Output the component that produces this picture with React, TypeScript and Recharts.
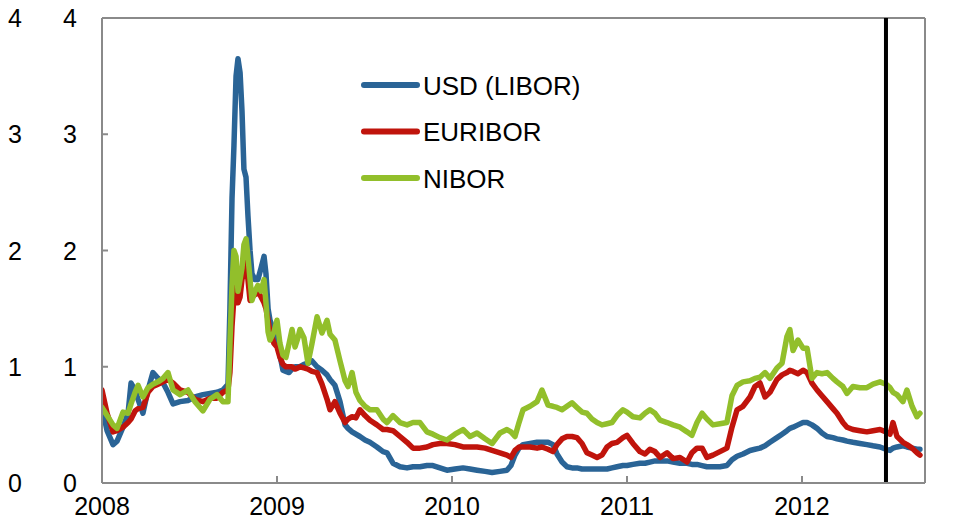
import {
    LineChart,
    Line,
    XAxis,
    YAxis,
    ReferenceLine,
    Legend,
} from 'recharts';

// decimal years
const dates = [
    2008.000, 2008.029, 2008.063, 2008.086, 2008.120, 2008.149, 2008.166, 2008.189, 2008.206, 2008.234, 2008.263, 2008.291,
    2008.320, 2008.349, 2008.377, 2008.406, 2008.446, 2008.491, 2008.531, 2008.577, 2008.617, 2008.657, 2008.691, 2008.720,
    2008.731, 2008.743, 2008.754, 2008.766, 2008.777, 2008.789, 2008.800, 2008.811, 2008.823, 2008.834, 2008.846, 2008.857,
    2008.874, 2008.891, 2008.909, 2008.926, 2008.937, 2008.949, 2008.960, 2008.983, 2009.000, 2009.017, 2009.034, 2009.051,
    2009.069, 2009.086, 2009.103, 2009.120, 2009.131, 2009.154, 2009.177, 2009.200, 2009.229, 2009.257, 2009.286, 2009.303,
    2009.331, 2009.360, 2009.389, 2009.406, 2009.429, 2009.451, 2009.474, 2009.503, 2009.531, 2009.571, 2009.606, 2009.629,
    2009.663, 2009.703, 2009.743, 2009.777, 2009.817, 2009.857, 2009.891, 2009.931, 2009.971, 2010.017, 2010.063, 2010.103,
    2010.143, 2010.189, 2010.229, 2010.274, 2010.314, 2010.337, 2010.360, 2010.383, 2010.406, 2010.446, 2010.486, 2010.514,
    2010.549, 2010.577, 2010.600, 2010.629, 2010.657, 2010.686, 2010.714, 2010.743, 2010.771, 2010.800, 2010.829, 2010.857,
    2010.886, 2010.914, 2010.943, 2010.977, 2011.000, 2011.034, 2011.074, 2011.103, 2011.131, 2011.160, 2011.189, 2011.229,
    2011.263, 2011.303, 2011.343, 2011.371, 2011.400, 2011.429, 2011.457, 2011.491, 2011.531, 2011.571, 2011.600, 2011.629,
    2011.663, 2011.703, 2011.731, 2011.760, 2011.789, 2011.817, 2011.857, 2011.886, 2011.914, 2011.931, 2011.949, 2011.977,
    2012.006, 2012.029, 2012.057, 2012.086, 2012.114, 2012.143, 2012.177, 2012.200, 2012.234, 2012.257, 2012.291, 2012.331,
    2012.371, 2012.406, 2012.446, 2012.480, 2012.503, 2012.520, 2012.543, 2012.577, 2012.600, 2012.629, 2012.657, 2012.674,
];

const usdLibor = [
    0.65, 0.45, 0.33, 0.36, 0.48, 0.60, 0.86, 0.80, 0.72, 0.60, 0.80, 0.95,
    0.90, 0.86, 0.78, 0.68, 0.70, 0.71, 0.74, 0.76, 0.77, 0.78, 0.80, 0.85,
    1.50, 2.45, 2.90, 3.50, 3.65, 3.53, 3.20, 2.70, 2.63, 2.30, 2.00, 1.80,
    1.75, 1.75, 1.85, 1.95, 1.80, 1.50, 1.40, 1.30, 1.23, 1.10, 0.97, 0.96,
    0.95, 0.98, 1.00, 1.00, 1.00, 1.02, 1.03, 1.05, 1.00, 0.97, 0.93, 0.89,
    0.84, 0.70, 0.50, 0.47, 0.44, 0.42, 0.40, 0.37, 0.35, 0.31, 0.27, 0.26,
    0.17, 0.14, 0.13, 0.14, 0.14, 0.15, 0.15, 0.13, 0.11, 0.12, 0.13, 0.12,
    0.11, 0.10, 0.09, 0.10, 0.11, 0.15, 0.24, 0.30, 0.33, 0.34, 0.35, 0.35,
    0.35, 0.33, 0.25, 0.18, 0.14, 0.13, 0.13, 0.12, 0.12, 0.12, 0.12, 0.12,
    0.12, 0.13, 0.14, 0.15, 0.15, 0.16, 0.17, 0.17, 0.18, 0.19, 0.19, 0.19,
    0.18, 0.17, 0.17, 0.16, 0.16, 0.15, 0.14, 0.14, 0.14, 0.15, 0.20, 0.23,
    0.25, 0.28, 0.29, 0.30, 0.32, 0.35, 0.39, 0.42, 0.45, 0.47, 0.48, 0.50,
    0.52, 0.52, 0.50, 0.47, 0.43, 0.40, 0.39, 0.38, 0.37, 0.36, 0.35, 0.34,
    0.33, 0.32, 0.31, 0.29, 0.28, 0.30, 0.31, 0.32, 0.31, 0.30, 0.29, 0.29,
];

const euribor = [
    0.80, 0.60, 0.44, 0.45, 0.48, 0.52, 0.55, 0.62, 0.64, 0.65, 0.78, 0.83,
    0.85, 0.87, 0.89, 0.86, 0.80, 0.78, 0.72, 0.70, 0.73, 0.73, 0.78, 0.80,
    0.95, 1.35, 1.60, 1.80, 1.55, 1.60, 1.75, 1.85, 1.90, 1.75, 1.57, 1.60,
    1.62, 1.65, 1.60, 1.55, 1.50, 1.40, 1.30, 1.20, 1.17, 1.08, 1.02, 1.00,
    1.00, 1.00, 0.98, 0.99, 1.00, 0.99, 0.98, 0.96, 0.95, 0.85, 0.72, 0.63,
    0.70, 0.60, 0.52, 0.55, 0.57, 0.56, 0.63, 0.58, 0.54, 0.50, 0.46, 0.46,
    0.45, 0.40, 0.35, 0.30, 0.30, 0.31, 0.33, 0.34, 0.34, 0.33, 0.31, 0.31,
    0.31, 0.30, 0.28, 0.26, 0.24, 0.22, 0.28, 0.31, 0.31, 0.31, 0.30, 0.31,
    0.29, 0.27, 0.33, 0.38, 0.40, 0.40, 0.39, 0.34, 0.26, 0.24, 0.22, 0.24,
    0.31, 0.34, 0.35, 0.39, 0.41, 0.34, 0.27, 0.25, 0.29, 0.27, 0.22, 0.26,
    0.21, 0.22, 0.18, 0.26, 0.30, 0.30, 0.22, 0.24, 0.27, 0.30, 0.48, 0.63,
    0.66, 0.74, 0.83, 0.86, 0.74, 0.78, 0.89, 0.93, 0.95, 0.97, 0.96, 0.94,
    0.97, 0.95, 0.86, 0.80, 0.75, 0.70, 0.64, 0.60, 0.52, 0.48, 0.46, 0.45,
    0.44, 0.45, 0.46, 0.44, 0.42, 0.52, 0.40, 0.35, 0.33, 0.30, 0.26, 0.24,
];

const nibor = [
    0.65, 0.58, 0.50, 0.47, 0.61, 0.60, 0.68, 0.78, 0.84, 0.74, 0.82, 0.85,
    0.87, 0.90, 0.95, 0.80, 0.76, 0.80, 0.70, 0.62, 0.72, 0.76, 0.70, 0.70,
    1.20, 1.70, 2.00, 1.95, 1.65, 1.75, 1.85, 2.05, 2.10, 1.95, 1.75, 1.57,
    1.65, 1.70, 1.65, 1.75, 1.55, 1.30, 1.23, 1.30, 1.40, 1.20, 1.10, 1.08,
    1.20, 1.32, 1.17, 1.25, 1.32, 1.25, 1.03, 1.20, 1.43, 1.29, 1.40, 1.28,
    1.23, 1.05, 0.88, 0.83, 0.95, 0.78, 0.71, 0.66, 0.63, 0.63, 0.55, 0.52,
    0.58, 0.52, 0.50, 0.52, 0.52, 0.44, 0.42, 0.39, 0.37, 0.42, 0.46, 0.40,
    0.43, 0.38, 0.34, 0.43, 0.46, 0.44, 0.40, 0.52, 0.63, 0.66, 0.70, 0.80,
    0.67, 0.66, 0.65, 0.63, 0.66, 0.69, 0.65, 0.61, 0.60, 0.55, 0.52, 0.50,
    0.51, 0.52, 0.58, 0.63, 0.61, 0.57, 0.56, 0.60, 0.63, 0.60, 0.54, 0.52,
    0.50, 0.48, 0.44, 0.41, 0.52, 0.60, 0.55, 0.50, 0.51, 0.52, 0.75, 0.84,
    0.87, 0.88, 0.90, 0.91, 0.95, 0.90, 0.99, 1.03, 1.26, 1.32, 1.14, 1.23,
    1.16, 1.16, 0.90, 0.95, 0.94, 0.95, 0.90, 0.87, 0.83, 0.77, 0.83, 0.82,
    0.82, 0.85, 0.87, 0.85, 0.82, 0.78, 0.76, 0.70, 0.80, 0.66, 0.57, 0.60,
];

const yearTicks = [2008, 2009, 2010, 2011, 2012];
const valueTicks = [0, 1, 2, 3, 4];
const markerDate = 2012.48;

const seriesNames = ['USD (LIBOR)', 'EURIBOR', 'NIBOR'];
const seriesKeys = ['usd', 'euribor', 'nibor'];
const seriesColors = ['#2A6496', '#C0140C', '#92BF2B'];

const data = dates.map((t, i) => ({
    t,
    usd: usdLibor[i],
    euribor: euribor[i],
    nibor: nibor[i],
}));

const FONT = '"Liberation Sans", Arial, sans-serif';
const AXIS = '#8A8A8A';
const PLOT_LEFT = 102;
const PLOT_RIGHT = 925;
const PLOT_BOTTOM = 483;

const LeftTick = (props: any) => {
    const { y, payload } = props;
    return (
        <g>
            <line x1={PLOT_LEFT} x2={PLOT_LEFT + 6} y1={y} y2={y} stroke={AXIS} strokeWidth={2} />
            <text x={15} y={y + 9} textAnchor="middle" fontSize={25} fontFamily={FONT} fill="#000">
                {payload.value}
            </text>
            <text x={70} y={y + 9} textAnchor="middle" fontSize={25} fontFamily={FONT} fill="#000">
                {payload.value}
            </text>
        </g>
    );
};

const RightTick = (props: any) => {
    const { y, payload } = props;
    return (
        <g>
            <line x1={PLOT_RIGHT} x2={PLOT_RIGHT - 6} y1={y} y2={y} stroke={AXIS} strokeWidth={2} />
            <text x={955} y={y + 9} textAnchor="middle" fontSize={25} fontFamily={FONT} fill="#000">
                {payload.value}
            </text>
        </g>
    );
};

const YearTick = (props: any) => {
    const { x, payload } = props;
    return (
        <g>
            {payload.value !== 2008 && (
                <line x1={x} x2={x} y1={PLOT_BOTTOM} y2={PLOT_BOTTOM - 7} stroke={AXIS} strokeWidth={2} />
            )}
            <text x={x} y={515} textAnchor="middle" fontSize={25} fontFamily={FONT} fill="#000">
                {payload.value}
            </text>
        </g>
    );
};

const renderLegend = () => (
    <svg width={280} height={140}>
        {seriesNames.map((name, i) => (
            <g key={name}>
                <line
                    x1={4}
                    x2={57}
                    y1={25 + i * 46.5}
                    y2={25 + i * 46.5}
                    stroke={seriesColors[i]}
                    strokeWidth={6}
                    strokeLinecap="round"
                />
                <text x={63} y={25 + i * 46.5 + 9.5} fontSize={26} fontFamily={FONT} fill="#000">
                    {name}
                </text>
            </g>
        ))}
    </svg>
);

const App = () => {
    return (
        <div style={{ position: 'absolute', left: 0, top: 0, background: '#fff' }}>
            <LineChart
                width={966}
                height={522}
                data={data}
                margin={{ top: 18, right: 0, bottom: 0, left: 0 }}
            >
                <XAxis
                    dataKey="t"
                    type="number"
                    domain={[2008, 2012.703]}
                    allowDataOverflow
                    ticks={yearTicks}
                    height={39}
                    axisLine={{ stroke: AXIS, strokeWidth: 2 }}
                    tickLine={false}
                    tick={<YearTick />}
                />
                <YAxis
                    yAxisId="left"
                    domain={[0, 4]}
                    ticks={valueTicks}
                    width={102}
                    axisLine={{ stroke: AXIS, strokeWidth: 2 }}
                    tickLine={false}
                    tick={<LeftTick />}
                />
                <YAxis
                    yAxisId="right"
                    orientation="right"
                    domain={[0, 4]}
                    ticks={valueTicks}
                    width={41}
                    axisLine={{ stroke: AXIS, strokeWidth: 2 }}
                    tickLine={false}
                    tick={<RightTick />}
                />
                <ReferenceLine yAxisId="left" y={4} stroke={AXIS} strokeWidth={2} />

                {seriesKeys.map((key, i) => (
                    <Line
                        key={key}
                        yAxisId="left"
                        type="linear"
                        dataKey={key}
                        name={seriesNames[i]}
                        stroke={seriesColors[i]}
                        strokeWidth={5.5}
                        strokeLinejoin="round"
                        strokeLinecap="round"
                        dot={false}
                        isAnimationActive={false}
                    />
                ))}

                <ReferenceLine yAxisId="left" x={markerDate} stroke="#000" strokeWidth={4} />

                <Legend
                    layout="vertical"
                    align="center"
                    verticalAlign="middle"
                    content={renderLegend}
                    wrapperStyle={{ position: 'absolute', left: 360, top: 60, width: 280, height: 140 }}
                />
            </LineChart>
        </div>
    );
};

export default App;
